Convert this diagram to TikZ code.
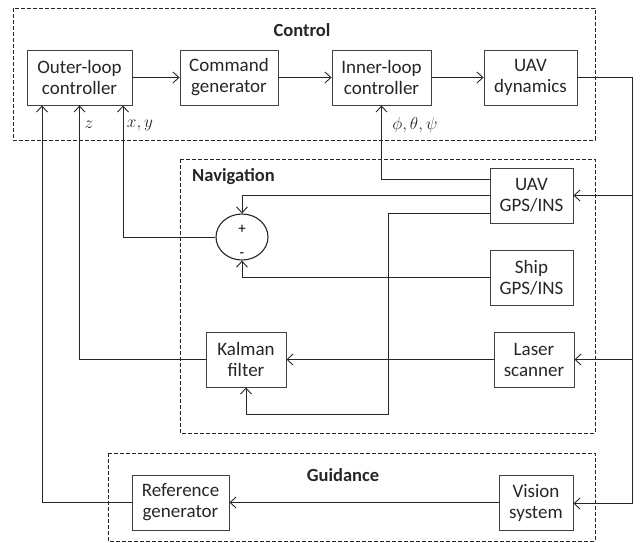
\documentclass[tikz,border=0pt]{standalone}
\usepackage{fontspec}
\setmainfont{Carlito}
\usetikzlibrary{arrows.meta,shapes.geometric}
\begin{document}
\begin{tikzpicture}[x=1pt,y=-1pt,
  box/.style={draw=black!75,line width=0.9pt,minimum height=55pt,inner sep=0pt,align=center,text=black!85,font=\fontsize{19}{21}\selectfont},
  group/.style={draw=black!85,line width=0.8pt,dash pattern=on 4pt off 2pt},
  title/.style={text=black!85,font=\fontsize{18.5}{20}\selectfont\bfseries},
  lbl/.style={text=black!85,font=\fontsize{18}{20}\selectfont,inner sep=0pt},
  conn/.style={line width=1pt,draw=black!85},
  arr/.style={conn,-{Straight Barb[length=6pt,width=11pt,line width=0.9pt]}}]
\useasboundingbox (0,0) rectangle (640,542);
% groups
\draw[group] (13,8) rectangle (595,140);
\draw[group] (180,159) rectangle (595,433);
\draw[group] (108,453) rectangle (595,541);
\node[title] (tctl) at (302,30) {Control};
\node[title,anchor=west,inner sep=0pt] (tnav) at (192,177) {Navigation};
\node[title] (tgui) at (343,475) {Guidance};
% control blocks
\node[box,minimum width=105pt] (outer) at (79.5,77.5) {Outer-loop\\controller};
\node[box,minimum width=98pt] (cmd) at (229,77.5) {Command\\generator};
\node[box,minimum width=99pt] (inner) at (381.5,77.5) {Inner-loop\\controller};
\node[box,minimum width=93pt] (dyn) at (530.5,77.5) {UAV\\dynamics};
% navigation blocks
\node[box,minimum width=83pt] (gps) at (531.5,195.5) {UAV\\GPS/INS};
\node[box,minimum width=83pt] (ship) at (531.5,277.5) {Ship\\GPS/INS};
\node[box,minimum width=80pt] (laser) at (534,359.5) {Laser\\scanner};
\node[box,minimum width=80pt] (kal) at (246,359.5) {Kalman\\filter};
\node[draw=black!85,line width=1.1pt,ellipse,minimum width=52pt,minimum height=46pt,inner sep=0pt] (sum) at (242,237) {};
\node[font=\fontsize{15}{15}\selectfont,inner sep=0pt] (plus) at (242,229) {+};
\node[font=\fontsize{15}{15}\selectfont,inner sep=0pt] (minus) at (242,255) {-};
% guidance blocks
\node[box,minimum width=97pt] (ref) at (180.5,502.5) {Reference\\generator};
\node[box,minimum width=74pt] (vis) at (536,502.5) {Vision\\system};
% labels
\node[lbl] (lz) at (89,125) {$z$};
\node[lbl] (lxy) at (140,125) {$x,y$};
\node[lbl] (lang) at (415,125) {$\phi,\theta,\psi$};
% coordinates
\coordinate (r0) at (632,77.5);
\coordinate (r1) at (632,195.5);
\coordinate (r2) at (632,359.5);
\coordinate (r3) at (632,503.5);
\coordinate (g1) at (490,179);
\coordinate (g2) at (490,195.5);
\coordinate (g3) at (490,213);
\coordinate (k1) at (388,213);
\coordinate (k2) at (388,414);
% connectors
\draw[arr] (outer) -- (cmd);
\draw[arr] (cmd) -- (inner);
\draw[arr] (inner) -- (dyn);
\draw[arr] (dyn.east) -- (r0) -- (r3) -- (vis.east |- r3);
\draw[arr] (r1) -- (gps.east);
\draw[arr] (r2) -- (laser.east);
\draw[arr] (g1) -| (inner.south);
\draw[arr] (g2) -| (sum.north);
\draw[arr] (g3) -- (k1) -- (k2) -| (kal.south);
\draw[arr] (ship.west) -| (sum.south);
\draw[arr] (sum.west) -| ([xshift=43.5pt]outer.south);
\draw[arr] (laser.west) -- (kal.east);
\draw[arr] (kal.west) -| (outer.south);
\draw[arr] (vis.west) -- (ref.east);
\draw[arr] (ref.west) -| ([xshift=-37.5pt]outer.south);
\end{tikzpicture}
\end{document}
